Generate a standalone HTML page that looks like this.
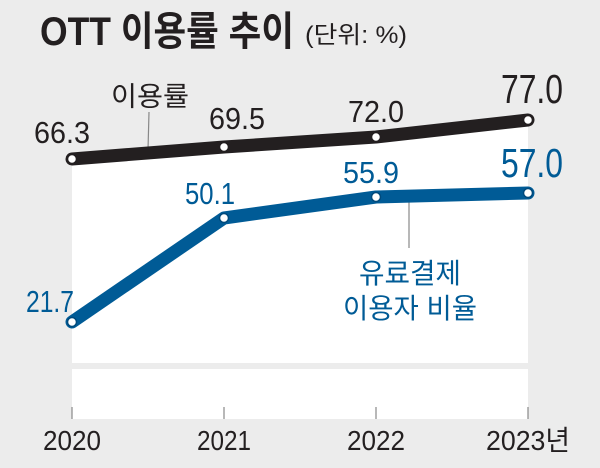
<!DOCTYPE html>
<html><head><meta charset="utf-8"><style>
html,body{margin:0;padding:0;background:#ececec;}
svg{display:block;font-family:"Liberation Sans","Noto Sans CJK KR",sans-serif;}
</style></head><body>
<svg width="600" height="468" viewBox="0 0 600 468">
<rect width="600" height="468" fill="#ececec"/>
<polygon points="72,159 224,147 376,137 528,120 528,363 72,363" fill="#fff"/>
<rect x="72" y="369" width="456" height="50" fill="#fff"/>
<g stroke="#888" stroke-width="1.2">
<line x1="72" y1="407" x2="72" y2="419"/><line x1="224" y1="407" x2="224" y2="419"/>
<line x1="376" y1="407" x2="376" y2="419"/><line x1="528" y1="407" x2="528" y2="419"/>
<line x1="149" y1="112" x2="148" y2="150"/><line x1="409" y1="197" x2="409" y2="248"/>
</g>
<polyline points="72,159 224,147 376,137 528,120" fill="none" stroke="#231f20" stroke-width="13" stroke-linejoin="round" stroke-linecap="round"/>
<polyline points="72,322 224,218 376,197 528,193" fill="none" stroke="#005b96" stroke-width="13" stroke-linejoin="round" stroke-linecap="round"/>
<g fill="#fff" stroke="#231f20" stroke-width="1.5">
<circle cx="72" cy="159" r="4.5"/><circle cx="224" cy="147" r="4.5"/><circle cx="376" cy="137" r="4.5"/><circle cx="528" cy="120" r="4.5"/>
</g>
<g fill="#fff" stroke="#004a7c" stroke-width="1.5">
<circle cx="72" cy="322" r="4.5"/><circle cx="224" cy="218" r="4.5"/><circle cx="376" cy="197" r="4.5"/><circle cx="528" cy="193" r="4.5"/>
</g>
<text x="40" y="45" font-size="40" font-weight="bold" fill="#231f20" textLength="254" lengthAdjust="spacingAndGlyphs">OTT 이용률 추이</text>
<text x="305" y="43" font-size="24" fill="#231f20" textLength="102" lengthAdjust="spacingAndGlyphs">(단위: %)</text>
<g fill="#231f20" font-size="31" text-anchor="middle">
<text x="62" y="143" textLength="56" lengthAdjust="spacingAndGlyphs">66.3</text>
<text x="237" y="129" textLength="56" lengthAdjust="spacingAndGlyphs">69.5</text>
<text x="376" y="122" textLength="56" lengthAdjust="spacingAndGlyphs">72.0</text>
<text x="532" y="103" font-size="41" textLength="62" lengthAdjust="spacingAndGlyphs">77.0</text>
<text x="150" y="106" font-size="27" textLength="78" lengthAdjust="spacingAndGlyphs">이용률</text>
</g>
<g fill="#005b96" font-size="31" text-anchor="middle">
<text x="50" y="312" textLength="48" lengthAdjust="spacingAndGlyphs">21.7</text>
<text x="210" y="204" textLength="50" lengthAdjust="spacingAndGlyphs">50.1</text>
<text x="371" y="183" textLength="56" lengthAdjust="spacingAndGlyphs">55.9</text>
<text x="532" y="177" font-size="41" textLength="62" lengthAdjust="spacingAndGlyphs">57.0</text>
<text x="410" y="283" font-size="28" textLength="102" lengthAdjust="spacingAndGlyphs">유료결제</text>
<text x="410" y="318" font-size="28" textLength="134" lengthAdjust="spacingAndGlyphs">이용자 비율</text>
</g>
<g fill="#231f20" font-size="28" text-anchor="middle">
<text x="72" y="450" textLength="58" lengthAdjust="spacingAndGlyphs">2020</text>
<text x="224" y="450" textLength="54" lengthAdjust="spacingAndGlyphs">2021</text>
<text x="376" y="450" textLength="58" lengthAdjust="spacingAndGlyphs">2022</text>
<text x="486" y="450" text-anchor="start" textLength="84" lengthAdjust="spacingAndGlyphs">2023년</text>
</g>
</svg>
</body></html>
